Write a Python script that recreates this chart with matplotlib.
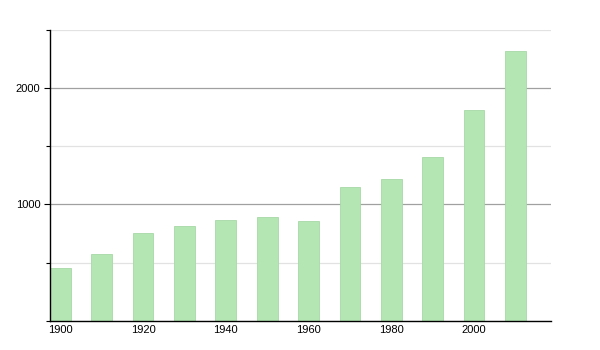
import matplotlib
matplotlib.use('Agg')
import matplotlib.pyplot as plt
from matplotlib.ticker import FixedLocator, MultipleLocator

# population by census year
years = [1900, 1910, 1920, 1930, 1940, 1950, 1960, 1970, 1980, 1990, 2000, 2010]
values = [450, 573, 754, 814, 866, 892, 858, 1153, 1220, 1409, 1809, 2323]
xtick_years = [1900, 1920, 1940, 1960, 1980, 2000]
ytick_values = [1000, 2000]

plt.rcParams['font.family'] = ['Liberation Sans', 'DejaVu Sans']

fig = plt.figure(figsize=(6, 3.5), dpi=100)
ax = fig.add_axes([0.0833, 0.084, 0.835, 0.83])

ax.bar(years, values, width=5, color='#b3e6b3', edgecolor='#a8d8a8',
       linewidth=0.6, zorder=2)

ax.set_xlim(1897.5, 2018.6)
ax.set_ylim(0, 2500)

ax.yaxis.set_major_locator(FixedLocator(ytick_values))
ax.yaxis.set_minor_locator(MultipleLocator(500))
ax.grid(True, which='major', axis='y', color='#a0a0a0', linewidth=0.9, zorder=0)
ax.grid(True, which='minor', axis='y', color='#e2e2e2', linewidth=0.9, zorder=0)
ax.set_axisbelow(True)

ax.set_xticks(xtick_years)
ax.set_xticklabels([str(y) for y in xtick_years])
ax.tick_params(axis='x', length=0, pad=3, labelsize=8)
ax.tick_params(axis='y', which='major', length=4, width=0.8, pad=3, labelsize=8)
ax.tick_params(axis='y', which='minor', length=3, width=0.8)

for side in ['top', 'right']:
    ax.spines[side].set_visible(False)
ax.spines['left'].set_linewidth(1)
ax.spines['bottom'].set_linewidth(1)

fig.savefig('out.png', dpi=100)
